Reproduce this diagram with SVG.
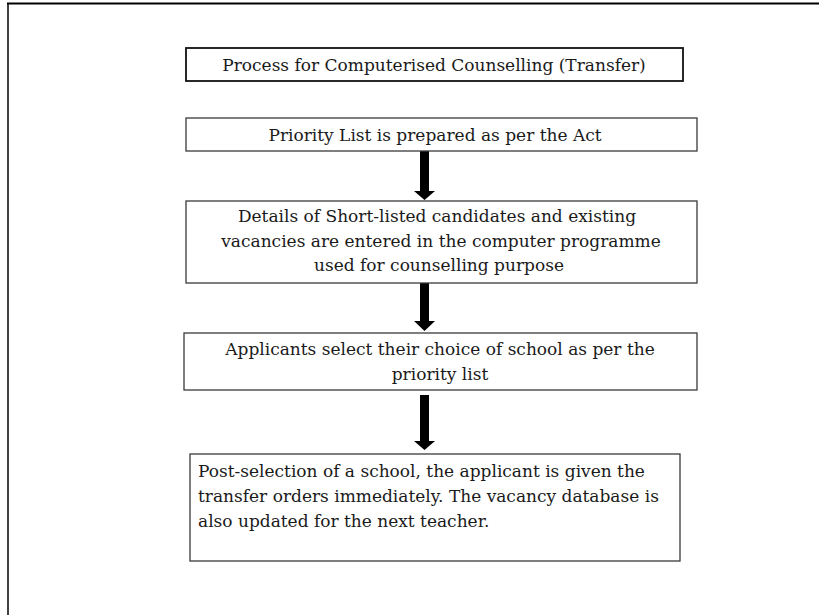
<svg xmlns="http://www.w3.org/2000/svg" width="819" height="615" viewBox="0 0 819 615">
<style>
.box{fill:#fff;stroke:#3a3a3a;stroke-width:1.3}
.t{font-family:"DejaVu Serif","Liberation Serif",serif;font-size:17px;fill:#1a1a1a}
.c{text-anchor:middle}
.arrow{fill:#000}
</style>
<rect x="0" y="0" width="819" height="615" fill="#fff"/>
<g id="frame">
<line x1="7" y1="3.5" x2="819" y2="3.5" stroke="#000" stroke-width="2"/>
<line x1="8" y1="3" x2="8" y2="615" stroke="#000" stroke-width="1.5"/>
</g>
<g id="connectors">
<path class="arrow" d="M420,151 H429 V191 H435 L424.5,200 L414,191 H420 Z"/>
<path class="arrow" d="M420,283 H429 V321 H435 L424.5,331 L414,321 H420 Z"/>
<path class="arrow" d="M420,395 H429 V441 H435 L424.5,450 L414,441 H420 Z"/>
</g>
<g id="n1">
<rect class="box" x="186" y="48" width="497" height="33" style="stroke:#111;stroke-width:1.8"/>
<text class="t c" x="434" y="71">Process for Computerised Counselling (Transfer)</text>
</g>
<g id="n2">
<rect class="box" x="186" y="118" width="511" height="33"/>
<text class="t c" x="435" y="141">Priority List is prepared as per the Act</text>
</g>
<g id="n3">
<rect class="box" x="186" y="201" width="511" height="82"/>
<text class="t c" x="437" y="222">Details of Short-listed candidates and existing</text>
<text class="t c" x="441" y="247">vacancies are entered in the computer programme</text>
<text class="t c" x="439" y="271">used for counselling purpose</text>
</g>
<g id="n4">
<rect class="box" x="184" y="333" width="513" height="57"/>
<text class="t c" x="440" y="355">Applicants select their choice of school as per the</text>
<text class="t c" x="440" y="380">priority list</text>
</g>
<g id="n5">
<rect class="box" x="190" y="454" width="490" height="107"/>
<text class="t" x="198" y="477">Post-selection of a school, the applicant is given the</text>
<text class="t" x="198" y="502">transfer orders immediately. The vacancy database is</text>
<text class="t" x="198" y="527">also updated for the next teacher.</text>
</g>
</svg>
